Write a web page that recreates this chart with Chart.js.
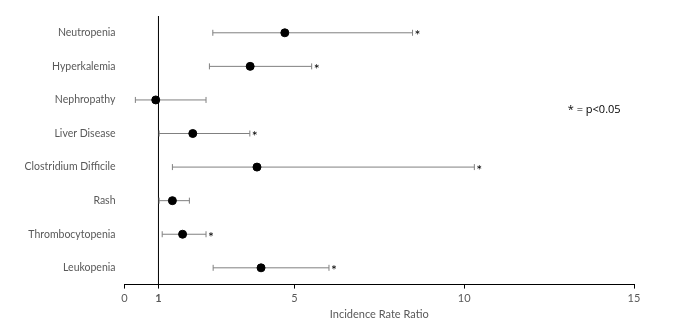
<!DOCTYPE html>
<html lang="en">
<head>
    <meta charset="UTF-8">
    <title>Incidence Rate Ratio</title>
    <style>
        body { margin: 0; padding: 0; background: white; }
        .wrap { width: 674px; height: 332px; position: relative; }
    </style>
    <script src="https://cdn.jsdelivr.net/npm/chart.js"></script>
</head>
<body>
    <div class="wrap">
        <canvas id="forestChart"></canvas>
    </div>

    <script>
        const categories = ['Neutropenia', 'Hyperkalemia', 'Nephropathy', 'Liver Disease',
            'Clostridium Difficile', 'Rash', 'Thrombocytopenia', 'Leukopenia'];
        const estimates = [4.72, 3.70, 0.92, 2.01, 3.90, 1.41, 1.71, 4.02];
        const lower = [2.60, 2.50, 0.32, 1.02, 1.41, 1.02, 1.11, 2.61];
        const upper = [8.48, 5.51, 2.40, 3.69, 10.30, 1.91, 2.40, 6.02];
        const significant = [true, true, false, true, true, false, true, true];
        const xTicks = [0, 1, 5, 10, 15];

        const rowY = i => categories.length - 0.5 - i;
        const labelFont = "Lato, 'Open Sans', sans-serif";

        const datasets = [];

        // reference line at 1
        datasets.push({
            type: 'line',
            order: 2,
            data: [{x: 1, y: 0}, {x: 1, y: categories.length}],
            borderColor: '#000',
            borderWidth: 1,
            pointRadius: 0
        });

        // confidence intervals
        categories.forEach((c, i) => {
            datasets.push({
                type: 'line',
                order: 1,
                data: [{x: lower[i], y: rowY(i)}, {x: upper[i], y: rowY(i)}],
                borderColor: '#808080',
                borderWidth: 1,
                pointStyle: 'line',
                rotation: 90,
                pointRadius: 3,
                pointBorderColor: '#808080',
                pointBorderWidth: 1
            });
        });

        // point estimates
        datasets.push({
            type: 'scatter',
            order: 0,
            data: estimates.map((v, i) => ({x: v, y: rowY(i)})),
            backgroundColor: '#000',
            borderColor: '#000',
            pointRadius: 4
        });

        const annotations = {
            id: 'annotations',
            afterDatasetsDraw(chart) {
                const ctx = chart.ctx;
                const xs = chart.scales.x, ys = chart.scales.y;
                ctx.save();
                ctx.fillStyle = '#000';
                ctx.font = "14px " + labelFont;
                ctx.textBaseline = 'middle';
                ctx.textAlign = 'left';
                significant.forEach((s, i) => {
                    if (!s) return;
                    ctx.fillText('*', xs.getPixelForValue(upper[i]) + 2, ys.getPixelForValue(rowY(i)) + 3);
                });
                ctx.font = "11px 'Open Sans', sans-serif";
                ctx.fillText('* = p<0.05', xs.getPixelForValue(13.05), ys.getPixelForValue(5.2));
                ctx.restore();
            }
        };

        new Chart(document.getElementById('forestChart'), {
            data: { datasets: datasets },
            options: {
                responsive: true,
                maintainAspectRatio: false,
                animation: false,
                layout: { padding: { left: 0, right: 40, top: 16, bottom: 11 } },
                plugins: {
                    legend: { display: false },
                    tooltip: { enabled: false }
                },
                scales: {
                    x: {
                        type: 'linear',
                        min: 0,
                        max: 15,
                        afterBuildTicks: scale => { scale.ticks = xTicks.map(v => ({value: v})); },
                        grid: { drawOnChartArea: false, drawTicks: true, tickLength: 4, color: '#000' },
                        border: { display: true, color: '#000', width: 1 },
                        ticks: {
                            color: '#595959',
                            padding: 3,
                            maxRotation: 0,
                            font: c => ({ family: labelFont, size: 11, weight: c.tick && c.tick.value === 1 ? 'bold' : 'normal' })
                        },
                        title: {
                            display: true,
                            text: 'Incidence Rate Ratio',
                            color: '#595959',
                            font: { family: labelFont, size: 11 },
                            padding: { top: 0, bottom: 0 }
                        }
                    },
                    y: {
                        type: 'linear',
                        min: 0,
                        max: categories.length,
                        afterBuildTicks: scale => { scale.ticks = categories.map((c, i) => ({value: rowY(i)})); },
                        afterFit: scale => { scale.width = 124.5; },
                        grid: { display: false, drawTicks: false },
                        border: { display: false },
                        ticks: {
                            color: '#595959',
                            padding: 9,
                            font: { family: labelFont, size: 10.5 },
                            callback: v => categories[Math.round(categories.length - 0.5 - v)]
                        }
                    }
                }
            },
            plugins: [annotations]
        });
    </script>
</body>
</html>
